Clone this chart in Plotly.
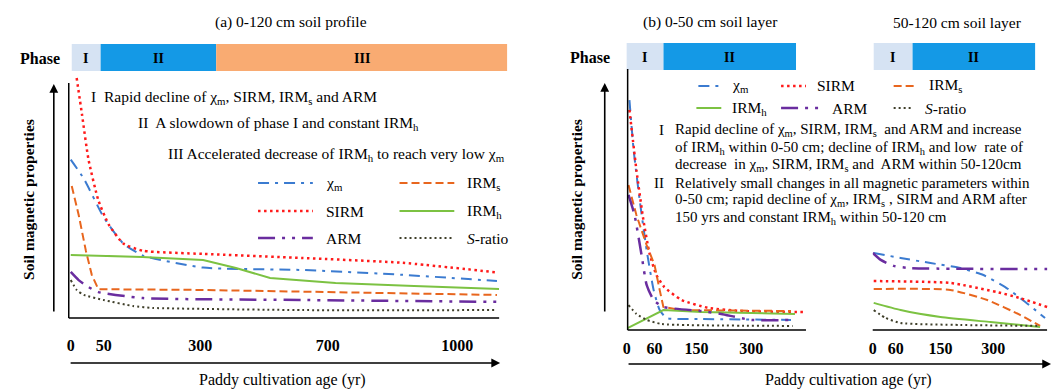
import numpy as np
import plotly.graph_objects as go

W, H = 1064, 389

# ---------------- data (schematic values, 0-100 relative scale) ----------------
# Panel (a): 0-120 cm soil profile, ages in years
A_CHI_AGE = [0, 20, 50, 101, 152, 309, 622, 873, 1092]
A_CHI_VAL = [66, 58, 42, 31, 26, 21, 20, 18, 15.4]
A_SIRM_AGE = [9, 17, 27, 42, 63, 101, 152, 309, 622, 873, 1092]
A_SIRM_VAL = [100, 85, 66, 49, 39, 31, 28, 26.7, 25, 23, 19]
A_IRMS_AGE = [1.5, 12, 23, 32, 42, 300, 700, 1092]
A_IRMS_VAL = [55, 43, 28, 18, 12, 11.7, 10.8, 9.6]
A_IRMH_AGE = [0, 150, 309, 412, 519, 718, 900, 1097]
A_IRMH_VAL = [26.3, 25.4, 24.2, 20.8, 16.7, 14.6, 13.3, 12.1]
A_ARM_AGE = [0, 12, 27, 42, 152, 622, 1115]
A_ARM_VAL = [19.2, 15.8, 12.9, 10.8, 8.3, 7.5, 6.7]
A_S_AGE = [0, 9, 20, 50, 126, 178, 622, 1092]
A_S_VAL = [15.8, 11.7, 9.6, 7.5, 5.0, 4.2, 3.3, 3.3]
A_TICKS = [0, 50, 300, 700, 1000]

# Panel (b) left: 0-50 cm soil layer
BL_CHI_AGE = [6, 15, 28, 43, 58, 71, 86, 164, 409]
BL_CHI_VAL = [95.8, 75, 54.2, 33.3, 16.7, 8.3, 5.0, 4.6, 4.2]
BL_SIRM_AGE = [6, 21, 36, 49, 64, 81, 118, 183, 273, 453]
BL_SIRM_VAL = [91.7, 66.7, 45.8, 32.1, 22.9, 17.9, 12.5, 9.2, 7.9, 7.5]
BL_IRMS_AGE = [4, 21, 43, 60, 71, 79, 118, 409]
BL_IRMS_VAL = [60.4, 47.9, 35.4, 27.1, 16.7, 9.6, 8.3, 7.9]
BL_IRMH_AGE = [2, 79, 164, 420]
BL_IRMH_VAL = [0.8, 8.3, 7.5, 6.7]
BL_ARM_AGE = [4, 17, 32, 43, 58, 79, 164, 218, 300, 415]
BL_ARM_VAL = [56.3, 47.9, 31.3, 18.8, 12.5, 9.6, 7.9, 6.7, 4.2, 4.2]
BL_S_AGE = [4, 21, 43, 75, 414]
BL_S_VAL = [10.4, 6.7, 4.2, 2.5, 1.7]

# Panel (b) right: 50-120 cm soil layer
BR_CHI_AGE = [2.6, 70, 130, 207, 272, 334, 391, 447]
BR_CHI_VAL = [32.1, 30, 27.9, 25.8, 22.9, 17.9, 11.7, 5.0]
BR_SIRM_AGE = [2.6, 178, 311, 376, 453]
BR_SIRM_VAL = [20.4, 19.6, 15.8, 13.3, 9.6]
BR_IRMS_AGE = [2.6, 178, 283, 376, 433]
BR_IRMS_VAL = [17.1, 16.7, 12.5, 6.3, 1.7]
BR_IRMH_AGE = [2.6, 70, 150, 292, 433]
BR_IRMH_VAL = [11.3, 8.3, 5.4, 3.3, 1.25]
BR_ARM_AGE = [0, 21, 55, 90, 453]
BR_ARM_VAL = [32.1, 29.2, 26.7, 25.8, 25.4]
BR_S_AGE = [2.6, 34, 70, 207, 433]
BR_S_VAL = [8.3, 5.0, 2.9, 2.1, 1.7]
B_TICKS = [0, 60, 150, 300]

# ---------------- schematic (piecewise) age scales ----------------
A_SCALE_AGE = [0, 50, 300, 700, 1000, 1200]
A_SCALE_U = [0, 33, 130, 258, 388, 474.6]
B_SCALE_AGE = [0, 60, 150, 300, 500]
BL_SCALE_U = [0, 28, 70, 125, 198.3]
BR_SCALE_U = [0, 23, 68, 121, 191.7]


def sc(ages, bk_age, bk_u):
    return list(np.interp(ages, bk_age, bk_u))


# ---------------- styles ----------------
FONT = "Liberation Serif"
TXT = 15.5
C_CHI, C_SIRM, C_IRMS = "#3b7bd0", "#ff1a1a", "#e8661e"
C_IRMH, C_ARM, C_S = "#7cc242", "#6a2d9f", "#3f3f2a"
STY = {
    "chi": dict(color=C_CHI, width=2, dash="11px,6px,3px,6px"),
    "sirm": dict(color=C_SIRM, width=2.5, dash="2.5px,3.5px"),
    "irms": dict(color=C_IRMS, width=2, dash="8px,4px"),
    "irmh": dict(color=C_IRMH, width=2, dash="solid"),
    "arm": dict(color=C_ARM, width=2.5, dash="17px,7px,3px,7px,3px,7px"),
    "s": dict(color=C_S, width=2, dash="2px,3px"),
}
LINEAR = {("x", "irms"), ("x2", "irmh"), ("x2", "irms"), ("x", "irmh")}


def P(x, y):
    return x / W, 1 - y / H


fig = go.Figure()

panels = [
    ("x", "y", A_SCALE_AGE, A_SCALE_U, [
        ("chi", A_CHI_AGE, A_CHI_VAL), ("sirm", A_SIRM_AGE, A_SIRM_VAL),
        ("irms", A_IRMS_AGE, A_IRMS_VAL), ("irmh", A_IRMH_AGE, A_IRMH_VAL),
        ("arm", A_ARM_AGE, A_ARM_VAL), ("s", A_S_AGE, A_S_VAL)]),
    ("x2", "y2", B_SCALE_AGE, BL_SCALE_U, [
        ("chi", BL_CHI_AGE, BL_CHI_VAL), ("sirm", BL_SIRM_AGE, BL_SIRM_VAL),
        ("irms", BL_IRMS_AGE, BL_IRMS_VAL), ("irmh", BL_IRMH_AGE, BL_IRMH_VAL),
        ("arm", BL_ARM_AGE, BL_ARM_VAL), ("s", BL_S_AGE, BL_S_VAL)]),
    ("x3", "y3", B_SCALE_AGE, BR_SCALE_U, [
        ("chi", BR_CHI_AGE, BR_CHI_VAL), ("sirm", BR_SIRM_AGE, BR_SIRM_VAL),
        ("irms", BR_IRMS_AGE, BR_IRMS_VAL), ("irmh", BR_IRMH_AGE, BR_IRMH_VAL),
        ("arm", BR_ARM_AGE, BR_ARM_VAL), ("s", BR_S_AGE, BR_S_VAL)]),
]
for xa, ya, bka, bku, series in panels:
    for key, ages, vals in series:
        lin = (xa, key) in LINEAR
        fig.add_trace(go.Scatter(
            x=sc(ages, bka, bku), y=vals, mode="lines", line=STY[key],
            line_shape="linear" if lin else "spline",
            line_smoothing=None if lin else 0.5,
            xaxis=xa, yaxis=ya, showlegend=False, hoverinfo="skip"))

# ---------------- axes ----------------
ax_common = dict(showgrid=False, zeroline=False, showline=False, ticks="",
                 tickfont=dict(family=FONT, size=16, color="black"))
ay_common = dict(showgrid=False, zeroline=False, showline=False, showticklabels=False,
                 range=[-3, 103], fixedrange=True)

fig.update_layout(
    xaxis=dict(domain=[65 / W, 497 / W], range=[-2, 430], anchor="y",
               tickvals=sc(A_TICKS, A_SCALE_AGE, A_SCALE_U),
               ticktext=["<b>%d</b>" % t for t in A_TICKS], ticklabelstandoff=9, **ax_common),
    yaxis=dict(domain=[1 - 325.2 / H, 1 - 70.8 / H], anchor="x", **ay_common),
    xaxis2=dict(domain=[625 / W, 805 / W], range=[0, 180], anchor="y2",
                tickvals=sc(B_TICKS, B_SCALE_AGE, BL_SCALE_U),
                ticktext=["<b>%d</b>" % t for t in B_TICKS], ticklabelstandoff=0, **ax_common),
    yaxis2=dict(domain=[1 - 337.2 / H, 1 - 82.8 / H], anchor="x2", **ay_common),
    xaxis3=dict(domain=[872 / W, 1048 / W], range=[0, 176], anchor="y3",
                tickvals=sc(B_TICKS, B_SCALE_AGE, BR_SCALE_U),
                ticktext=["<b>%d</b>" % t for t in B_TICKS], ticklabelstandoff=0, **ax_common),
    yaxis3=dict(domain=[1 - 337.2 / H, 1 - 82.8 / H], anchor="x3", **ay_common),
)

shapes = []
annos = []


def line(x0, y0, x1, y1, color="black", width=1.5, dash="solid"):
    a0, b0 = P(x0, y0)
    a1, b1 = P(x1, y1)
    shapes.append(dict(type="line", xref="paper", yref="paper", x0=a0, y0=b0, x1=a1, y1=b1,
                       line=dict(color=color, width=width, dash=dash)))


def rect(x0, y0, x1, y1, color):
    a0, b0 = P(x0, y0)
    a1, b1 = P(x1, y1)
    shapes.append(dict(type="rect", xref="paper", yref="paper", x0=a0, y0=b1, x1=a1, y1=b0,
                       fillcolor=color, line=dict(width=0), layer="below"))


def text(x, y, s, size=TXT, anchor="left", bold=False, angle=0):
    a, b = P(x, y)
    annos.append(dict(x=a, y=b, xref="paper", yref="paper",
                      text="<b>%s</b>" % s if bold else s, showarrow=False,
                      xanchor=anchor, yanchor="middle", textangle=angle,
                      font=dict(family=FONT, size=size, color="black")))


def arrow(xh, yh, xt, yt):
    a, b = P(xh, yh)
    annos.append(dict(x=a, y=b, xref="paper", yref="paper", text="", showarrow=True,
                      ax=xt - xh, ay=yt - yh, arrowhead=2, arrowsize=1.1, arrowwidth=1.6,
                      arrowcolor="black"))


C_P1, C_P2, C_P3 = "#d6e3f3", "#1499e6", "#f9ab72"

# ---- panel (a) decorations ----
text(288, 22, "(a) 0-120 cm soil profile", 15.5, "center")
text(36, 58, "Phase", 16, "center", bold=True)
rect(68, 44, 97, 71, C_P1)
rect(97, 44, 213, 71, C_P2)
rect(213, 44, 505, 71, C_P3)
text(82, 58, "I", 14, "center", bold=True)
text(155, 58, "II", 14, "center", bold=True)
text(359, 58, "III", 14, "center", bold=True)
line(65, 83, 65, 318)
line(65, 318, 497, 318)
arrow(50, 84, 50, 313)
arrow(498, 363, 67, 363)
text(25, 199, "Soil magnetic properties", 15.5, "center", bold=True, angle=-90)
text(280, 380, "Paddy cultivation age (yr)", 16, "center")
text(85, 97, "I  Rapid decline of χ<sub>m</sub>, SIRM, IRM<sub>s</sub> and ARM")
text(132, 123, "II  A slowdown of phase I and constant IRM<sub>h</sub>")
text(163, 154, "III Accelerated decrease of IRM<sub>h</sub> to reach very low χ<sub>m</sub>")

LEG_A = [("chi", "χ<sub>m</sub>", 255, 183), ("irms", "IRM<sub>s</sub>", 397, 183),
         ("sirm", "SIRM", 255, 211), ("irmh", "IRM<sub>h</sub>", 397, 211),
         ("arm", "ARM", 255, 238), ("s", "<i>S</i>-ratio", 397, 238)]
for key, lab, x0, y0 in LEG_A:
    st = STY[key]
    line(x0, y0, x0 + 55, y0, st["color"], st["width"], st["dash"])
    text(x0 + 66, y0, lab)

# ---- panel (b) decorations ----
text(709, 22, "(b) 0-50 cm soil layer", 15.5, "center")
text(957, 22, "50-120 cm soil layer", 15.5, "center")
text(588, 57, "Phase", 16, "center", bold=True)
rect(625, 43, 662, 70, C_P1)
rect(662, 43, 795, 70, C_P2)
rect(873, 43, 912, 70, C_P1)
rect(912, 43, 1035, 70, C_P2)
text(643, 57, "I", 14, "center", bold=True)
text(728, 57, "II", 14, "center", bold=True)
text(892, 57, "I", 14, "center", bold=True)
text(973, 57, "II", 14, "center", bold=True)
line(626, 69, 626, 330)
line(626, 330, 805, 330)
line(872, 330, 1047, 330)
arrow(603, 83, 603, 313)
arrow(1051, 364, 627, 364)
text(575, 199, "Soil magnetic properties", 15.5, "center", bold=True, angle=-90)
text(848, 380, "Paddy cultivation age (yr)", 16, "center")

LEG_B = [("chi", "χ<sub>m</sub>", 697, 86, 23), ("sirm", "SIRM", 780, 86, 25),
         ("irms", "IRM<sub>s</sub>", 893, 86, 24),
         ("irmh", "IRM<sub>h</sub>", 695, 108, 25), ("arm", "ARM", 780, 108, 40),
         ("s", "<i>S</i>-ratio", 893, 108, 20)]
for key, lab, x0, y0, ln in LEG_B:
    st = STY[key]
    line(x0, y0, x0 + ln, y0, st["color"], st["width"], st["dash"])
    text(x0 + ln + 9, y0, lab)

text(655, 130, "I", 15)
text(650, 183, "II", 15)
B_LINES = [
    (130, "Rapid decline of χ<sub>m</sub>, SIRM, IRM<sub>s</sub>  and ARM and increase"),
    (148, "of IRM<sub>h</sub> within 0-50 cm; decline of IRM<sub>h</sub> and low  rate of"),
    (165, "decrease  in χ<sub>m</sub>, SIRM, IRM<sub>s</sub> and  ARM within 50-120cm"),
    (183, "Relatively small changes in all magnetic parameters within"),
    (200, "0-50 cm; rapid decline of χ<sub>m</sub>, IRM<sub>s</sub> , SIRM and ARM after"),
    (218, "150 yrs and constant IRM<sub>h</sub> within 50-120 cm"),
]
for yy, s in B_LINES:
    text(672, yy, s, 15)

fig.update_layout(
    width=W, height=H, margin=dict(l=0, r=0, t=0, b=0),
    paper_bgcolor="white", plot_bgcolor="white",
    font=dict(family=FONT, color="black"),
    shapes=shapes, annotations=annos, showlegend=False,
)
fig.write_html("out.html")
